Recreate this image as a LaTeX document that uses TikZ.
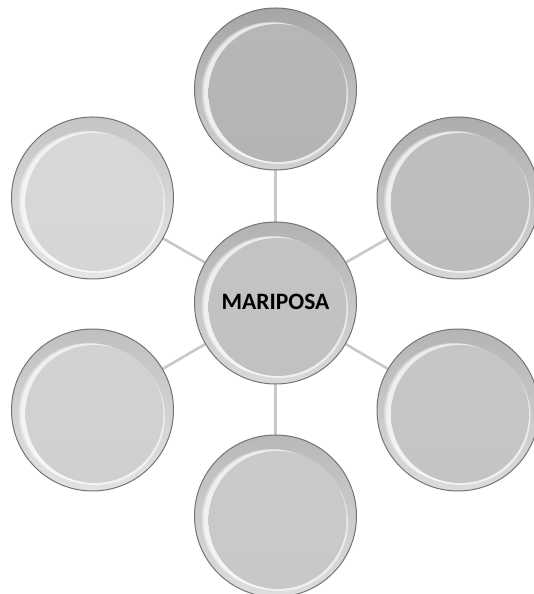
\documentclass[tikz,border=0pt]{standalone}
\usepackage{fontspec}
\setmainfont{Carlito}
\definecolor{gTop}{RGB}{180,180,180}
\definecolor{gUR}{RGB}{188,188,188}
\definecolor{gLR}{RGB}{196,196,196}
\definecolor{gBot}{RGB}{200,200,200}
\definecolor{gLL}{RGB}{208,208,208}
\definecolor{gUL}{RGB}{214,214,214}
\definecolor{gCen}{RGB}{193,193,193}
\definecolor{linkgray}{RGB}{200,200,200}
\definecolor{ringedge}{RGB}{115,115,115}
\newcommand\drawbubble[2]{%
  \begin{scope}[shift={(#1.center)}]
    \shade[top color=#2!92!black, bottom color=#2!60!white] (0,0) circle[radius=81pt];
    \draw[ringedge, line width=1pt] (0,0) circle[radius=81pt];
    \fill[white, opacity=0.35] (-4,-3) circle[radius=70pt];
    \fill[white, opacity=0.6] (-2,-3.5) circle[radius=70pt];
    \fill[white, opacity=0.6] (3.5,-6) circle[radius=69pt];
    \shade[top color=#2!96!white, bottom color=#2] (2,-4) circle[radius=69pt];
  \end{scope}
}
\begin{document}
\begin{tikzpicture}[x=1pt,y=1pt,
  bubble/.style={circle, minimum size=162pt, inner sep=0pt},
  link/.style={draw=linkgray, line width=2.6pt},
  label/.style={font=\bfseries\fontsize{23.5}{26}\selectfont, text=black}]
\useasboundingbox (0,0) rectangle (533,594);
\node[bubble] (cen) at (275.5,291) {};
\node[bubble] (top) at (275.5,505) {};
\node[bubble] (bot) at (275.5,78) {};
\node[bubble] (ul) at (92.5,396) {};
\node[bubble] (ll) at (92.5,184) {};
\node[bubble] (ur) at (458,396) {};
\node[bubble] (lr) at (458,184) {};
\foreach \n in {top,bot,ul,ll,ur,lr} {\draw[link] (cen) -- (\n);}
\drawbubble{top}{gTop}
\drawbubble{ur}{gUR}
\drawbubble{lr}{gLR}
\drawbubble{bot}{gBot}
\drawbubble{ll}{gLL}
\drawbubble{ul}{gUL}
\drawbubble{cen}{gCen}
\node[label] (txt) at (275.5,292) {MARIPOSA};
\end{tikzpicture}
\end{document}
